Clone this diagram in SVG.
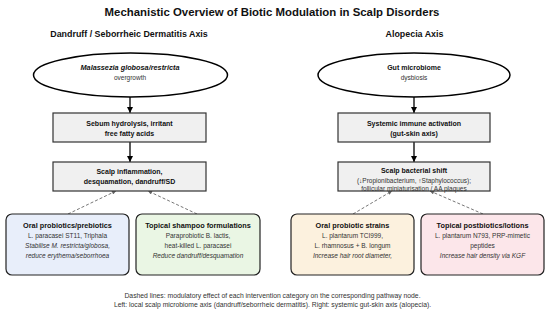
<svg xmlns="http://www.w3.org/2000/svg" width="550" height="315" viewBox="0 0 550 315">
<defs>
<marker id="arr" viewBox="0 0 10 10" refX="10" refY="5" markerWidth="6" markerHeight="7" markerUnits="userSpaceOnUse" orient="auto"><path d="M0,0 L10,5 L0,10 z" fill="#000"/></marker>
<marker id="darr" viewBox="0 0 10 10" refX="10" refY="5" markerWidth="5" markerHeight="4" markerUnits="userSpaceOnUse" orient="auto"><path d="M0,0 L10,5 L0,10 z" fill="#666"/></marker>
<style>
text{font-family:"Liberation Sans",Arial,sans-serif;text-anchor:middle;fill:#111}
.title{font-size:11.4px;font-weight:bold}
.hdr{font-size:8.9px;font-weight:bold}
.ell{fill:#fff;stroke:#000;stroke-width:1.5}
.box{fill:#f0f0f0;stroke:#333;stroke-width:1.2}
.bt{font-size:7px;font-weight:bold}
.st{font-size:6.5px;fill:#333}
.it{font-size:6.5px;font-style:italic;fill:#333}
.card{stroke:#222;stroke-width:1.2}
.ct{font-size:7.3px;font-weight:bold}
.foot{font-size:6.8px;fill:#333}
.flow{stroke:#000;stroke-width:1.3;fill:none;marker-end:url(#arr)}
.dash{stroke:#666;stroke-width:0.9;fill:none;stroke-dasharray:3,2;marker-end:url(#darr)}
</style>
</defs>
<rect width="550" height="315" fill="#fff"/>
<text class="title" x="272" y="16">Mechanistic Overview of Biotic Modulation in Scalp Disorders</text>
<text class="hdr" x="129" y="36.5">Dandruff / Seborrheic Dermatitis Axis</text>
<text class="hdr" x="414.5" y="36.5">Alopecia Axis</text>

<g id="connectors">
<line class="flow" x1="130" y1="97" x2="130" y2="113"/>
<line class="flow" x1="130" y1="142" x2="130" y2="162"/>
<line class="flow" x1="414" y1="97" x2="414" y2="113"/>
<line class="flow" x1="414" y1="142" x2="414" y2="162"/>
<line class="dash" x1="68" y1="214" x2="116" y2="191"/>
<line class="dash" x1="197" y1="214" x2="148" y2="191"/>
<line class="dash" x1="353" y1="214" x2="392" y2="191"/>
<line class="dash" x1="483" y1="214" x2="430" y2="191"/>
</g>

<g id="malassezia">
<ellipse class="ell" cx="130.5" cy="75" rx="97" ry="22"/>
<text x="130" y="69.5" style="font-size:7.3px;font-weight:bold;font-style:italic">Malassezia globosa/restricta</text>
<text class="st" x="130" y="79.5">overgrowth</text>
</g>
<g id="sebum">
<rect class="box" x="53" y="113" width="153" height="29"/>
<text class="bt" x="129.5" y="125.5">Sebum hydrolysis, irritant</text>
<text class="bt" x="129.5" y="135.5">free fatty acids</text>
</g>
<g id="inflammation">
<rect class="box" x="53" y="162" width="153" height="29"/>
<text class="bt" x="129.5" y="174">Scalp inflammation,</text>
<text class="bt" x="129.5" y="184">desquamation, dandruff/SD</text>
</g>

<g id="gut">
<ellipse class="ell" cx="414" cy="75" rx="96" ry="22"/>
<text class="bt" x="414" y="69.5">Gut microbiome</text>
<text class="st" x="414" y="79.5">dysbiosis</text>
</g>
<g id="immune">
<rect class="box" x="338" y="113" width="152" height="29"/>
<text class="bt" x="414" y="125.5">Systemic immune activation</text>
<text class="bt" x="414" y="135.5">(gut-skin axis)</text>
</g>
<g id="bacterial">
<rect class="box" x="338" y="162" width="152" height="29"/>
<text class="bt" x="414" y="172.5">Scalp bacterial shift</text>
<text class="st" x="414" y="182.5">(↓Propionibacterium, ↑Staphylococcus);</text>
<text class="st" x="414" y="191">follicular miniaturisation / AA plaques</text>
</g>

<g id="oral-pre">
<rect class="card" x="6" y="214" width="123" height="61" rx="6" fill="#e8eefa"/>
<text class="ct" x="67.5" y="228">Oral probiotics/prebiotics</text>
<text class="st" x="67.5" y="238">L. paracasei ST11, Triphala</text>
<text class="it" x="67.5" y="248">Stabilise M. restricta/globosa,</text>
<text class="it" x="67.5" y="257.5">reduce erythema/seborrhoea</text>
</g>
<g id="shampoo">
<rect class="card" x="136" y="214" width="124" height="61" rx="6" fill="#eaf6e4"/>
<text class="ct" x="198" y="228">Topical shampoo formulations</text>
<text class="st" x="198" y="238">Paraprobiotic B. lactis,</text>
<text class="st" x="198" y="248">heat-killed L. paracasei</text>
<text class="it" x="198" y="257.5">Reduce dandruff/desquamation</text>
</g>
<g id="oral-strains">
<rect class="card" x="291" y="214" width="123" height="61" rx="6" fill="#fcf1de"/>
<text class="ct" x="352.5" y="228">Oral probiotic strains</text>
<text class="st" x="352.5" y="238">L. plantarum TCI999,</text>
<text class="st" x="352.5" y="248">L. rhamnosus + B. longum</text>
<text class="it" x="352.5" y="257.5">Increase hair root diameter,</text>
</g>
<g id="postbiotics">
<rect class="card" x="421" y="214" width="123" height="61" rx="6" fill="#fce6ea"/>
<text class="ct" x="482.5" y="228">Topical postbiotics/lotions</text>
<text class="st" x="482.5" y="238">L. plantarum N793, PRP-mimetic</text>
<text class="st" x="482.5" y="248">peptides</text>
<text class="it" x="482.5" y="257.5">Increase hair density via KGF</text>
</g>

<text class="foot" x="272.5" y="297.5">Dashed lines: modulatory effect of each intervention category on the corresponding pathway node.</text>
<text class="foot" x="272.5" y="307">Left: local scalp microbiome axis (dandruff/seborrheic dermatitis). Right: systemic gut-skin axis (alopecia).</text>
</svg>
